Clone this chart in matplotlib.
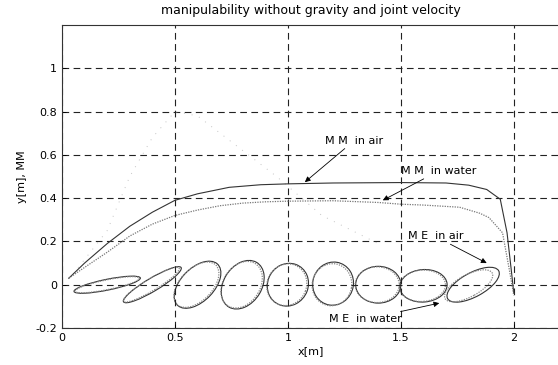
import matplotlib.pyplot as plt
from matplotlib.patches import Ellipse

# manipulability measure curves
mm_air_x = [0.03, 0.1, 0.2, 0.3, 0.4, 0.5, 0.6, 0.74, 0.88, 1.0, 1.2, 1.5, 1.7, 1.8, 1.88, 1.94, 1.97, 1.99, 2.0]
mm_air_y = [0.03, 0.1, 0.19, 0.27, 0.335, 0.39, 0.42, 0.45, 0.462, 0.466, 0.47, 0.472, 0.47, 0.46, 0.44, 0.395, 0.24, 0.056, -0.04]
mm_water_x = [0.03, 0.1, 0.2, 0.3, 0.4, 0.5, 0.6, 0.7, 0.8, 0.9, 1.0, 1.2, 1.4, 1.5, 1.6, 1.76, 1.85, 1.89, 1.95, 1.98, 2.0]
mm_water_y = [0.03, 0.08, 0.15, 0.225, 0.28, 0.32, 0.345, 0.365, 0.377, 0.383, 0.386, 0.388, 0.38, 0.372, 0.368, 0.358, 0.33, 0.31, 0.24, 0.07, -0.05]

# faint dotted trace
faint_x = [0.05, 0.2, 0.3, 0.4, 0.5, 0.6, 0.8, 0.95, 1.15, 1.4]
faint_y = [0.05, 0.25, 0.5, 0.68, 0.8, 0.78, 0.62, 0.5, 0.32, 0.19]

# manipulability ellipses (air)
ell_x = [0.20, 0.40, 0.60, 0.80, 1.00, 1.20, 1.40, 1.60, 1.82]
ell_y = [0.00, 0.00, 0.00, 0.00, 0.00, 0.005, 0.00, -0.005, 0.00]
ell_w = [0.30, 0.30, 0.26, 0.24, 0.20, 0.20, 0.20, 0.21, 0.26]
ell_h = [0.05, 0.06, 0.15, 0.17, 0.18, 0.18, 0.17, 0.15, 0.11]
ell_a = [12, 32, 48, 60, 70, 80, 0, 5, 30]

# manipulability ellipses (water)
ellw_x = [0.20, 0.395, 0.595, 0.795, 0.995, 1.195, 1.395, 1.595, 1.80]
ellw_y = [0.00, 0.00, 0.00, 0.00, 0.00, 0.00, 0.00, -0.005, -0.005]
ellw_w = [0.29, 0.29, 0.25, 0.23, 0.195, 0.195, 0.195, 0.205, 0.24]
ellw_h = [0.045, 0.055, 0.145, 0.165, 0.175, 0.175, 0.165, 0.145, 0.10]
ellw_a = [12, 32, 48, 60, 70, 80, 0, 5, 30]

fig = plt.figure(figsize=(5.58, 3.65), dpi=100)
ax = fig.add_axes([62/558, 37/365, 497/558, 303/365])

ax.plot(faint_x, faint_y, color='#c4c4c4', lw=0.7, linestyle=(0, (1, 7)))
ax.plot(mm_air_x, mm_air_y, color='#333333', lw=0.8)
ax.plot(mm_water_x, mm_water_y, color='#777777', lw=0.9, linestyle=(0, (1, 1)))

for x, y, w, h, a in zip(ell_x, ell_y, ell_w, ell_h, ell_a):
    ax.add_patch(Ellipse((x, y), w, h, angle=a, fill=False, ec='#333333', lw=0.8))
for x, y, w, h, a in zip(ellw_x, ellw_y, ellw_w, ellw_h, ellw_a):
    ax.add_patch(Ellipse((x, y), w, h, angle=a, fill=False, ec='#888888', lw=0.9,
                         linestyle=(0, (1, 1))))

ax.set_xlim(0, 2.2)
ax.set_ylim(-0.2, 1.2)
ax.set_xticks([0, 0.5, 1, 1.5, 2])
ax.set_xticklabels(['0', '0.5', '1', '1.5', '2'])
ax.set_yticks([-0.2, 0, 0.2, 0.4, 0.6, 0.8, 1])
ax.set_yticklabels(['-0.2', '0', '0.2', '0.4', '0.6', '0.8', '1'])
ax.tick_params(direction='in', length=3, labelsize=8, width=0.6)
ax.grid(True, color='#222222', linestyle=(0, (6, 4)), lw=0.8)
for s in ax.spines.values():
    s.set_linewidth(0.8)
    s.set_color('#333333')

ax.set_title('manipulability without gravity and joint velocity', fontsize=9, pad=8)
ax.set_xlabel('x[m]', fontsize=8, labelpad=2)
ax.set_ylabel('y[m], MM', fontsize=8, labelpad=6)

arrow = dict(arrowstyle='-|>', color='black', lw=0.6, mutation_scale=8, shrinkA=0, shrinkB=0)
ax.annotate('M M  in air', xy=(1.075, 0.474), xytext=(1.164, 0.665), fontsize=8,
            va='center', arrowprops=arrow)
ax.annotate('M M  in water', xy=(1.42, 0.39), xytext=(1.50, 0.525), fontsize=8,
            va='center', arrowprops=arrow)
ax.annotate('M E  in air', xy=(1.88, 0.10), xytext=(1.53, 0.223), fontsize=8,
            va='center', arrowprops=arrow)
ax.annotate('M E  in water', xy=(1.67, -0.085), xytext=(1.18, -0.16), fontsize=8,
            va='center', arrowprops=arrow)

plt.savefig('out.png', dpi=100)
